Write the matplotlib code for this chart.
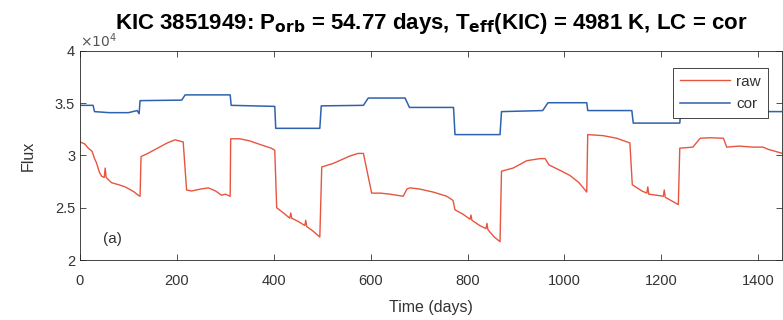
import numpy as np
import matplotlib
matplotlib.use('Agg')
import matplotlib.pyplot as plt
from matplotlib.ticker import FuncFormatter

# raw light curve (time in days, flux in units of 1e4)
raw_t = [0, 10, 17, 25, 30, 34, 40, 45, 50, 52, 54, 65, 80, 93, 105, 112, 120, 124,
         126, 140, 160, 180, 196, 213, 220,
         230, 250, 265, 280, 292, 300, 310,
         311, 330, 350, 375, 395, 402, 406,
         420, 433, 435, 437, 450, 464, 466, 468, 480, 495,
         499, 523, 540, 557, 574, 585, 602,
         620, 640, 667, 675, 681, 700, 729, 757, 770, 774,
         790, 805, 807, 809, 825, 838, 840, 842, 855, 867,
         870, 894, 910, 922, 949, 960, 968, 990, 1011, 1030, 1046,
         1048, 1080, 1108, 1135, 1140,
         1160, 1170, 1172, 1174, 1190, 1204, 1206, 1208, 1235,
         1238, 1265, 1280, 1300, 1328, 1335, 1360, 1390, 1410, 1420, 1450]
raw_f = [3.13, 3.11, 3.07, 3.04, 2.97, 2.93, 2.84, 2.80, 2.79, 2.88, 2.79, 2.74, 2.72, 2.70, 2.67, 2.65, 2.62, 2.61,
         2.99, 3.02, 3.07, 3.12, 3.15, 3.13, 2.67,
         2.66, 2.68, 2.69, 2.66, 2.62, 2.63, 2.61,
         3.16, 3.16, 3.14, 3.10, 3.07, 3.05, 2.50,
         2.45, 2.40, 2.45, 2.40, 2.37, 2.33, 2.38, 2.32, 2.28, 2.22,
         2.89, 2.925, 2.96, 2.995, 3.02, 3.02, 2.64,
         2.64, 2.63, 2.61, 2.68, 2.69, 2.68, 2.65, 2.61, 2.57, 2.48,
         2.44, 2.39, 2.43, 2.38, 2.33, 2.30, 2.35, 2.29, 2.22, 2.175,
         2.85, 2.88, 2.92, 2.95, 2.97, 2.97, 2.91, 2.86, 2.81, 2.74, 2.65,
         3.20, 3.19, 3.165, 3.12, 2.72,
         2.66, 2.64, 2.70, 2.63, 2.62, 2.61, 2.67, 2.60, 2.53,
         3.07, 3.08, 3.165, 3.17, 3.165, 3.08, 3.09, 3.08, 3.08, 3.06, 3.02]

# corrected light curve
cor_t = [0, 27, 30, 60, 100, 118, 122, 124, 210, 217, 310, 312, 402, 404, 495, 498,
         585, 595, 671, 680, 771, 774, 867, 870, 955, 966, 1046, 1048, 1139, 1142,
         1238, 1240, 1450]
cor_f = [3.48, 3.48, 3.42, 3.41, 3.41, 3.43, 3.40, 3.525, 3.53, 3.58, 3.58, 3.48, 3.47, 3.26, 3.26, 3.475,
         3.48, 3.55, 3.55, 3.46, 3.46, 3.20, 3.20, 3.42, 3.43, 3.505, 3.505, 3.43, 3.43, 3.31,
         3.31, 3.42, 3.42]

plt.rcParams['font.family'] = ['Liberation Sans', 'DejaVu Sans']
txt = '#333333'

fig = plt.figure(figsize=(7.83, 3.2), dpi=100)
ax = fig.add_axes([80 / 783, 60 / 320, 702 / 783, 209 / 320])

ax.plot(raw_t, np.array(raw_f) * 1e4, color='#e8553f', lw=1.0, label='raw')
ax.plot(cor_t, np.array(cor_f) * 1e4, color='#2f62ad', lw=1.1, label='cor')

ax.set_xlim(0, 1449)
ax.set_ylim(2e4, 4e4)
ax.set_xticks(range(0, 1401, 200))
ax.set_yticks([2e4, 2.5e4, 3e4, 3.5e4, 4e4])
ax.yaxis.set_major_formatter(FuncFormatter(lambda v, p: '%g' % (v / 1e4)))
ax.tick_params(direction='in', top=True, right=True, length=4, labelsize=10.5,
               colors=txt, width=0.6)
ax.tick_params(axis='x', pad=10)
for s in ax.spines.values():
    s.set_color('#262626')
    s.set_linewidth(0.6)

ax.text(0, 1.005, r'$\times10^4$', transform=ax.transAxes, fontsize=10,
        color='#555555', ha='left', va='bottom')
ax.text(47, 2.2e4, '(a)', fontsize=11, color=txt, ha='left', va='center')

ax.set_xlabel('Time (days)', fontsize=11.5, color=txt, labelpad=9)
ax.set_ylabel('Flux', fontsize=11.5, color=txt, labelpad=14)
ax.set_title(r'KIC 3851949: P$_{\mathbf{orb}}$ = 54.77 days, T$_{\mathbf{eff}}$(KIC) = 4981 K, LC = cor',
             fontsize=16, fontweight='bold', pad=16)

leg = ax.legend(loc='upper right', bbox_to_anchor=(0.98, 0.919), borderaxespad=0,
                fontsize=11, handlelength=3.3, handletextpad=0.4, labelspacing=0.55,
                borderpad=0.45, fancybox=False, edgecolor='#262626', framealpha=1)
leg.get_frame().set_linewidth(0.6)
for t in leg.get_texts():
    t.set_color(txt)

plt.savefig('out.png', dpi=100)
plt.close('all')
